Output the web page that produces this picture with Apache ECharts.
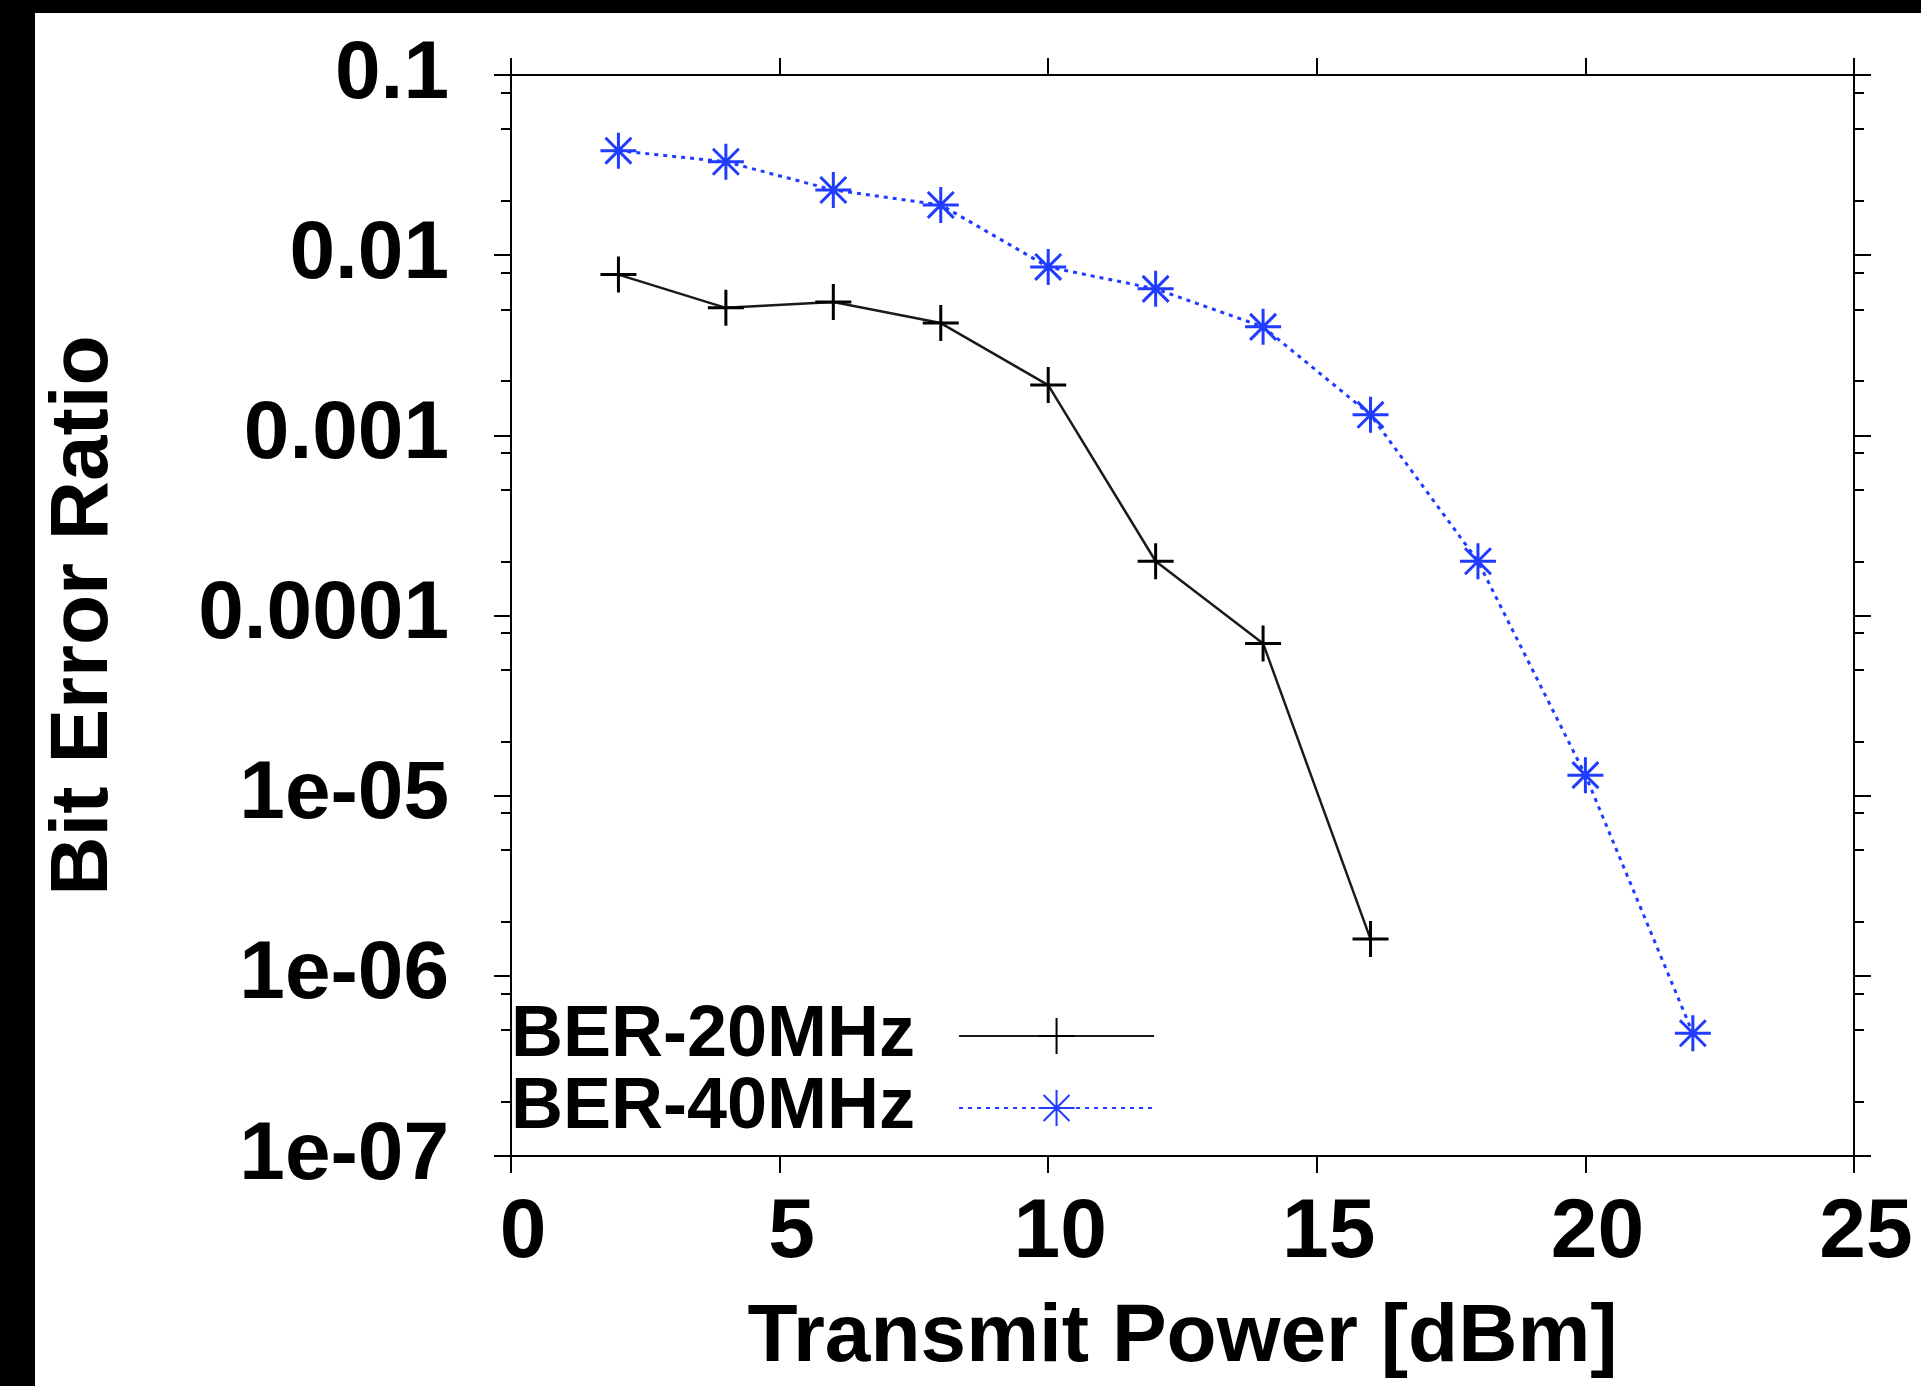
<!DOCTYPE html>
<html>
<head>
    <meta charset="utf-8">
    <title>Bit Error Ratio</title>
    <style>
        * { margin: 0; padding: 0; box-sizing: border-box; }
        html, body, #chart { width: 100%; height: 100%; overflow: hidden; background: #fff; }
    </style>
</head>
<body>
    <div id="chart"></div>
    <script src="https://cdn.jsdelivr.net/npm/echarts@6/dist/echarts.min.js"></script>
    <script>
        // transmit power [dBm]
        var power = [2, 4, 6, 8, 10, 12, 14, 16, 18, 20, 22];

        // bit error ratio
        var ber20 = [0.0078, 0.0051, 0.0055, 0.0042, 0.0019, 0.0002, 0.00007, 0.0000016];
        var ber40 = [0.038, 0.033, 0.023, 0.019, 0.0086, 0.0065, 0.004, 0.0013, 0.0002, 0.000013, 0.00000048];

        // decade labels, from 1e-7 up to 0.1
        var yTickLabels = ['1e-07', '1e-06', '1e-05', '0.0001', '0.001', '0.01', '0.1'];
        // minor tics inside each decade (2, 5, 8 x 10^n)
        var minorTicks = [2e-7, 5e-7, 8e-7, 2e-6, 5e-6, 8e-6, 2e-5, 5e-5, 8e-5,
                          2e-4, 5e-4, 8e-4, 2e-3, 5e-3, 8e-3, 2e-2, 5e-2, 8e-2];

        var FONT = 'Liberation Sans';
        var plusPath = 'path://M0,-1L0,1M-1,0L1,0';
        var starPath = 'path://M0,-1L0,1M-1,0L1,0M-0.72,-0.72L0.72,0.72M-0.72,0.72L0.72,-0.72';
        var blue = '#1f3cff';

        function pairs(ys) {
            return ys.map(function (v, i) { return [power[i], v]; });
        }

        var minorLog = minorTicks.map(function (v) { return Math.log10(v); });

        var chart = echarts.init(document.getElementById('chart'));

        var axisLine = { show: true, onZero: false, lineStyle: { color: '#000', width: 2 } };

        var option = {
            animation: false,
            backgroundColor: '#fff',
            textStyle: { fontFamily: FONT },
            graphic: [
                { type: 'rect', shape: { x: 0, y: 0, width: 1921, height: 13 }, style: { fill: '#000' } },
                { type: 'rect', shape: { x: 0, y: 0, width: 35, height: 1386 }, style: { fill: '#000' } }
            ],
            grid: {
                left: 511, right: 67, top: 75, bottom: 230,
                outerBoundsMode: 'none'
            },
            legend: {
                orient: 'vertical',
                left: 511,
                top: 1000,
                padding: 0,
                itemGap: 0,
                align: 'right',
                itemWidth: 195,
                itemHeight: 45,
                selectedMode: false,
                textStyle: {
                    fontFamily: FONT, fontWeight: 'bold', fontSize: 72,
                    lineHeight: 69, color: '#000', padding: [0, 39, 0, 0]
                },
                data: ['BER-20MHz', 'BER-40MHz']
            },
            xAxis: [
                {
                    type: 'value', position: 'bottom', min: 0, max: 25, interval: 5,
                    name: 'Transmit Power [dBm]', nameLocation: 'middle', nameGap: 141,
                    nameTextStyle: { fontFamily: FONT, fontWeight: 'bold', fontSize: 82, lineHeight: 82, color: '#000' },
                    axisLine: axisLine,
                    axisTick: { show: true, inside: false, length: 17, lineStyle: { color: '#000', width: 2 } },
                    axisLabel: {
                        margin: 36, fontFamily: FONT, fontWeight: 'bold', fontSize: 84, lineHeight: 84,
                        color: '#000', padding: [0, 0, 0, 24], showMinLabel: true, showMaxLabel: true
                    },
                    splitLine: { show: false }
                },
                {
                    type: 'value', position: 'top', min: 0, max: 25, interval: 5,
                    axisLine: axisLine,
                    axisTick: { show: true, inside: false, length: 17, lineStyle: { color: '#000', width: 2 } },
                    axisLabel: { show: false },
                    splitLine: { show: false }
                }
            ],
            yAxis: [
                // data axis (log), the visible tics are drawn by the axes below
                { type: 'log', logBase: 10, min: 1e-7, max: 0.1, show: false },
                {
                    type: 'value', position: 'left', min: -7, max: -1, interval: 1,
                    name: 'Bit Error Ratio', nameLocation: 'middle', nameGap: 386,
                    nameTextStyle: { fontFamily: FONT, fontWeight: 'bold', fontSize: 82, lineHeight: 82, color: '#000' },
                    axisLine: axisLine,
                    axisTick: { show: true, inside: false, length: 17, lineStyle: { color: '#000', width: 2 } },
                    axisLabel: {
                        margin: 62, fontFamily: FONT, fontWeight: 'bold', fontSize: 82, color: '#000',
                        showMinLabel: true, showMaxLabel: true,
                        formatter: function (v) { return yTickLabels[Math.round(v) + 7]; }
                    },
                    splitLine: { show: false }
                },
                {
                    type: 'value', position: 'right', min: -7, max: -1, interval: 1,
                    axisLine: axisLine,
                    axisTick: { show: true, inside: false, length: 17, lineStyle: { color: '#000', width: 2 } },
                    axisLabel: { show: false },
                    splitLine: { show: false }
                },
                {
                    type: 'value', position: 'left', min: -7, max: -1,
                    axisLine: { show: false },
                    axisTick: { show: true, inside: false, length: 10, customValues: minorLog, lineStyle: { color: '#000', width: 2 } },
                    axisLabel: { show: false },
                    splitLine: { show: false }
                },
                {
                    type: 'value', position: 'right', min: -7, max: -1,
                    axisLine: { show: false },
                    axisTick: { show: true, inside: false, length: 10, customValues: minorLog, lineStyle: { color: '#000', width: 2 } },
                    axisLabel: { show: false },
                    splitLine: { show: false }
                }
            ],
            series: [
                {
                    name: 'BER-20MHz',
                    type: 'line',
                    xAxisIndex: 0,
                    yAxisIndex: 0,
                    data: pairs(ber20),
                    symbol: plusPath,
                    symbolSize: 36,
                    lineStyle: { color: '#1a1a1a', width: 2.5 },
                    itemStyle: { color: '#000', borderColor: '#000', borderWidth: 3 },
                    z: 2
                },
                {
                    name: 'BER-40MHz',
                    type: 'line',
                    xAxisIndex: 0,
                    yAxisIndex: 0,
                    data: pairs(ber40),
                    symbol: starPath,
                    symbolSize: 36,
                    lineStyle: { color: blue, width: 3, type: [4, 5] },
                    itemStyle: { color: blue, borderColor: blue, borderWidth: 3 },
                    z: 3
                }
            ]
        };

        chart.setOption(option);
    </script>
</body>
</html>
